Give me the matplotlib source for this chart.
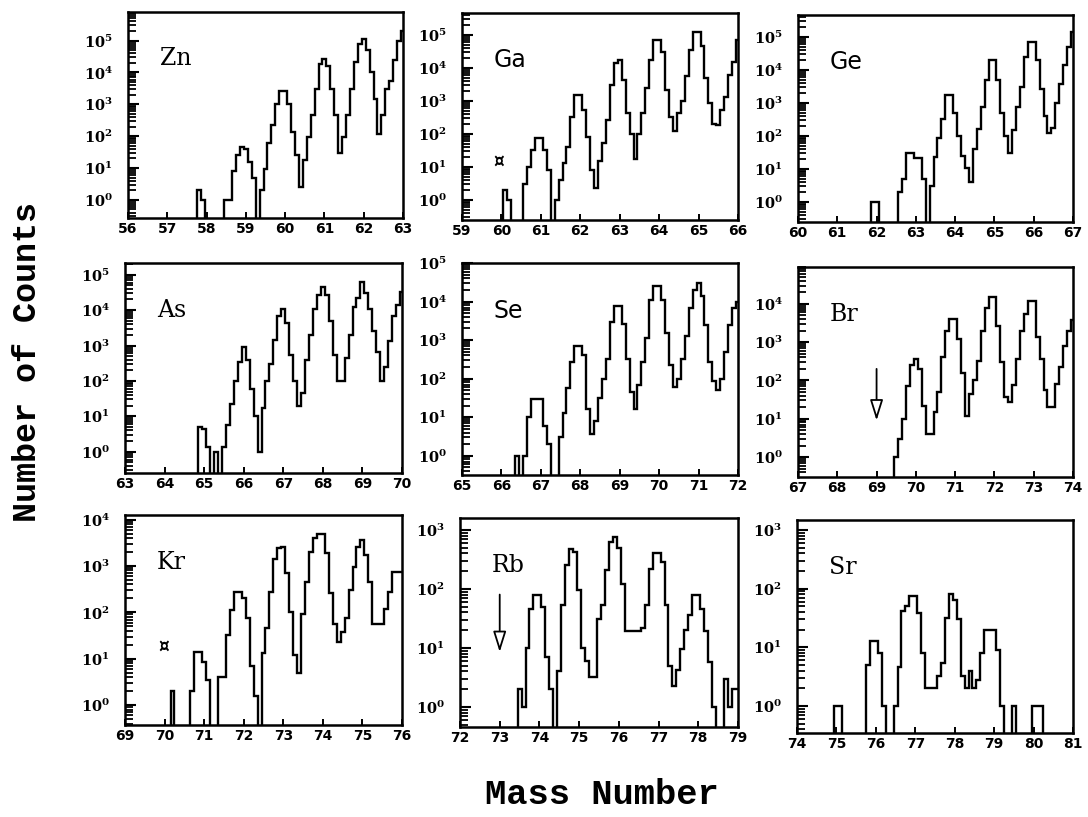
import numpy as np
import matplotlib
matplotlib.use("Agg")
import matplotlib.pyplot as plt
from matplotlib.ticker import LogLocator, FixedLocator, FuncFormatter, NullFormatter

# ---------------- data (counts per 0.1 mass-unit bin, bins centred at start + 0.1*k) -------------
elements = ["Zn", "Ga", "Ge", "As", "Se", "Br", "Kr", "Rb", "Sr"]
mass_start = [56, 59, 60, 63, 65, 67, 69, 72, 74]

counts_Zn = [0, 0, 0, 0, 0, 0, 0, 0, 0, 0,
             0, 0, 0, 0, 0, 0, 0, 0, 2, 1,
             0, 0, 0, 0, 0, 1, 1, 8, 25, 45,
             40, 15, 5, 0, 2, 9, 60, 220, 1000, 2700,
             2700, 1000, 135, 25, 2.6, 18, 95, 450, 3000, 19000,
             27000, 16000, 3000, 450, 30, 95, 450, 3000, 21000, 77000,
             110000, 50000, 10000, 1500, 120, 450, 3100, 5600, 24000, 100000,
             200000]
counts_Ga = [0, 0, 0, 0, 0, 0, 0, 0, 0, 0,
             0, 2, 1, 0, 0, 0, 3, 10, 33, 74,
             74, 33, 8, 0, 1, 4, 13, 41, 330, 1500,
             1500, 530, 80, 8, 2.3, 15, 52, 265, 3000, 14000,
             17000, 4300, 420, 100, 18, 100, 420, 2400, 17000, 70000,
             70000, 31000, 2100, 320, 120, 420, 1000, 5500, 35000, 125000,
             125000, 45000, 4900, 850, 200, 190, 530, 1350, 6000, 15000,
             70000]
counts_Ge = [0, 0, 0, 0, 0, 0, 0, 0, 0, 0,
             0, 0, 0, 0, 0, 0, 0, 0, 0, 1,
             1, 0, 0, 0, 0, 0, 2, 5, 30, 30,
             21, 21, 5, 0, 3, 23, 90, 330, 1700, 1700,
             500, 100, 25, 11, 4, 40, 160, 750, 5000, 20000,
             20000, 5000, 500, 100, 30, 150, 750, 3000, 24000, 70000,
             70000, 20000, 2700, 400, 120, 180, 1000, 3700, 14000, 50000,
             140000]
counts_As = [0, 0, 0, 0, 0, 0, 0, 0, 0, 0,
             0, 0, 0, 0, 0, 0, 0, 0, 0, 5,
             4.4, 1.4, 0, 1, 0, 1.4, 5.7, 23, 100, 350,
             900, 400, 60, 10, 1, 17, 100, 310, 1400, 6700,
             11000, 4300, 550, 100, 20, 45, 400, 2000, 11000, 27000,
             46000, 27000, 4800, 550, 100, 100, 430, 2000, 12000, 22000,
             64000, 30000, 11000, 2500, 670, 100, 250, 1300, 6700, 14000,
             33000]
counts_Se = [0, 0, 0, 0, 0, 0, 0, 0, 0, 0,
             0, 0, 0, 0, 1, 0, 1, 10, 30, 30,
             30, 6, 2, 0, 0, 3, 13, 56, 270, 700,
             700, 400, 16, 3.6, 8, 31, 100, 330, 2900, 7700,
             7700, 2600, 330, 46, 16, 70, 270, 1100, 11000, 25000,
             25000, 11000, 1500, 220, 60, 100, 330, 1300, 7000, 20000,
             30000, 14000, 2400, 270, 85, 50, 100, 500, 2400, 7000,
             9500]
counts_Br = [0, 0, 0, 0, 0, 0, 0, 0, 0, 0,
             0, 0, 0, 0, 0, 0, 0, 0, 0, 0,
             0, 0, 0, 0, 0, 1, 3, 10, 70, 250,
             370, 200, 22, 4, 4, 15, 50, 400, 2000, 4000,
             4000, 1200, 160, 12, 45, 100, 330, 2000, 8000, 15000,
             15000, 2700, 300, 37, 27, 74, 370, 2000, 5500, 12000,
             12000, 1350, 370, 55, 20, 20, 80, 220, 800, 2000,
             3700]
counts_Kr = [0, 0, 0, 0, 0, 0, 0, 0, 0, 0,
             0, 0, 2, 0, 0, 0, 0, 2, 14, 14,
             8.6, 3.5, 0, 0, 4, 4, 32, 110, 270, 270,
             200, 74, 7, 1.6, 0, 13, 45, 280, 1450, 2400,
             2600, 700, 100, 12, 5, 90, 460, 2000, 4000, 5000,
             5000, 1900, 260, 57, 23, 38, 74, 300, 960, 2600,
             3600, 1700, 460, 57, 57, 57, 120, 280, 750, 750,
             750]
counts_Rb = [0, 0, 0, 0, 0, 0, 0, 0, 0, 0,
             0, 0, 0, 0, 0, 2, 1, 10, 46, 78,
             78, 50, 7, 2, 0, 4, 53, 250, 480, 420,
             95, 10, 6, 3.2, 3.2, 31, 53, 210, 620, 760,
             500, 120, 19, 19, 19, 19, 22, 53, 220, 400,
             400, 290, 53, 5, 2.3, 4.2, 9.7, 20, 36, 78,
             78, 46, 19, 5.8, 1, 0, 0, 3, 1, 2,
             2]
counts_Sr = [0, 0, 0, 0, 0, 0, 0, 0, 0, 0,
             1, 1, 0, 0, 0, 0, 0, 0, 5, 12.6,
             12.6, 8, 1, 0, 0, 1, 4.7, 41, 50, 75,
             75, 39, 8, 2, 2, 2, 3.2, 5.4, 32, 80,
             65, 30, 3.2, 2, 3.9, 2, 2.8, 8, 20, 20,
             20, 9, 1, 0, 0, 1, 0, 0, 0, 0,
             1, 1, 1, 0, 0, 0, 0, 0, 0, 0,
             0]
all_counts = [counts_Zn, counts_Ga, counts_Ge, counts_As, counts_Se,
              counts_Br, counts_Kr, counts_Rb, counts_Sr]

# y-axis ranges (log10 of limits)
ylim_log = [(-0.57, 5.9), (-0.6, 5.66), (-0.6, 5.66),
            (-0.6, 5.33), (-0.5, 5.0), (-0.52, 4.96),
            (-0.43, 4.1), (-0.34, 3.2), (-0.46, 3.17)]

# annotations: arrows (mass, from, to) and special marks (mass, counts)
arrows = {"Br": (69.0, 200, 9), "Rb": (73.0, 80, 8.5)}
marks = {"Ga": (59.93, 15), "Kr": (69.97, 18)}

# ---------------- layout / style -------------------------------------------------------------
W, H = 1088, 817
boxes = [(128, 12, 403, 218), (462, 13, 738, 220), (798, 15, 1073, 222),
         (125, 263, 402, 473), (462, 263, 738, 475), (798, 267, 1073, 477),
         (125, 515, 402, 725), (460, 518, 738, 727), (797, 520, 1073, 733)]
label_family = ["DejaVu Serif", "DejaVu Sans", "DejaVu Sans",
                "DejaVu Serif", "DejaVu Sans", "DejaVu Serif",
                "DejaVu Serif", "DejaVu Serif", "DejaVu Serif"]

plt.rcParams["font.family"] = ["DejaVu Sans"]
plt.rcParams["mathtext.fontset"] = "dejavuserif"
plt.rcParams["mathtext.default"] = "bf"

fig = plt.figure(figsize=(W / 100, H / 100), dpi=100)

for i, el in enumerate(elements):
    x0, y0, x1, y1 = boxes[i]
    ax = fig.add_axes([x0 / W, 1 - y1 / H, (x1 - x0) / W, (y1 - y0) / H])
    m0 = mass_start[i]
    vals = np.asarray(all_counts[i], dtype=float)
    centers = m0 + 0.1 * np.arange(len(vals))
    edges = np.concatenate([centers - 0.05, [centers[-1] + 0.05]])
    plot_vals = np.where(vals > 0, vals, 1e-3)
    ax.stairs(plot_vals, edges, baseline=None, color="black", lw=1.7)

    ax.set_yscale("log")
    lo, hi = ylim_log[i]
    ax.set_ylim(10 ** lo, 10 ** hi)
    ax.set_xlim(m0, m0 + 7)

    ax.xaxis.set_major_locator(FixedLocator(np.arange(m0, m0 + 8)))
    ax.xaxis.set_major_formatter(FuncFormatter(lambda v, p: f"{int(round(v))}"))
    decades = np.arange(0, int(np.floor(hi)) + 1)
    ax.yaxis.set_major_locator(FixedLocator(10.0 ** decades))
    ax.yaxis.set_minor_locator(LogLocator(base=10, subs=np.arange(2, 10), numticks=12))
    ax.yaxis.set_minor_formatter(NullFormatter())
    ax.yaxis.set_major_formatter(FuncFormatter(lambda v, p: r"$10^{%d}$" % int(round(np.log10(v)))))

    ax.tick_params(axis="y", which="major", direction="in", length=8, width=1.5,
                   labelsize=10.5, pad=11)
    ax.tick_params(axis="y", which="minor", direction="in", length=5.5, width=1.3)
    ax.tick_params(axis="x", which="major", direction="in", length=4, width=1.4,
                   labelsize=10, pad=3)
    for lab in ax.get_xticklabels():
        lab.set_fontweight("bold")
    for sp in ax.spines.values():
        sp.set_linewidth(1.8)

    ax.text(0.115, 0.775, el, transform=ax.transAxes, ha="left", va="center",
            fontsize=17, family=label_family[i], fontweight="normal")

    if el in arrows:
        xm, ya, yb = arrows[el]
        ax.annotate("", xy=(xm, yb), xytext=(xm, ya),
                    arrowprops=dict(arrowstyle="-|>,head_length=0.7,head_width=0.22",
                                    fc="white", ec="black", lw=1.3,
                                    mutation_scale=18, shrinkA=0, shrinkB=0))
    if el in marks:
        xm, ym = marks[el]
        ax.text(xm, ym, "\u00a4", ha="center", va="center", fontsize=12,
                fontweight="bold")

fig.text(0.025, 0.557, "Number of Counts", rotation=90, ha="center", va="center",
         fontsize=24, family="Liberation Mono", fontweight="bold")
fig.text(0.553, 0.027, "Mass Number", ha="center", va="center",
         fontsize=25.5, family="Liberation Mono", fontweight="bold")

fig.savefig("out.png", dpi=100)
